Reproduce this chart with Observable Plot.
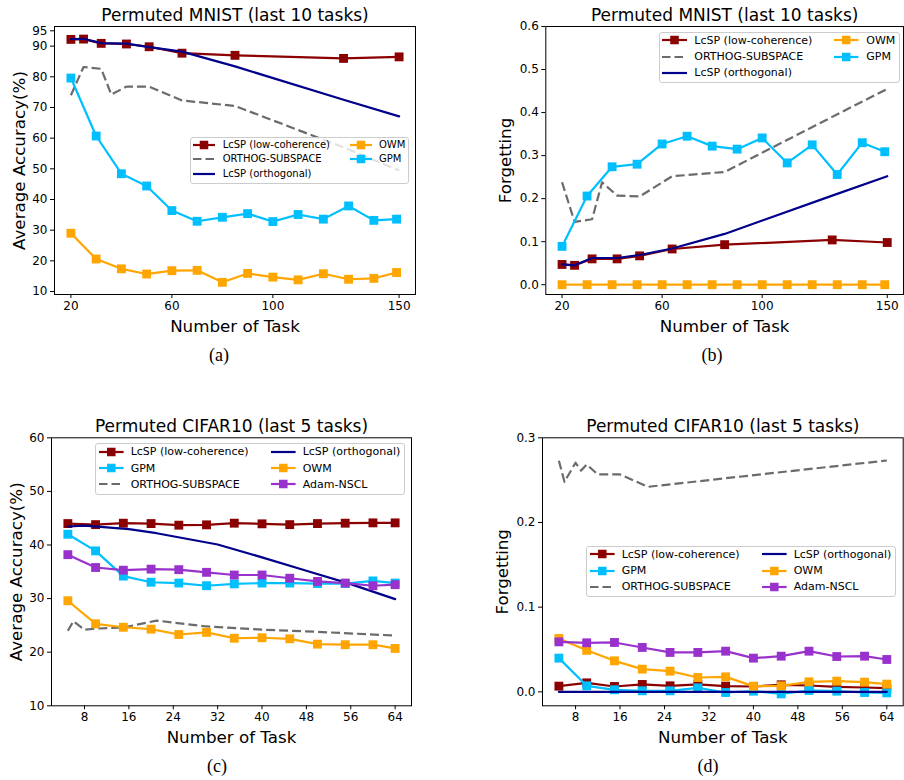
<!DOCTYPE html>
<html><head><meta charset="utf-8">
<script src="https://cdn.jsdelivr.net/npm/d3@7"></script>
<script src="https://cdn.jsdelivr.net/npm/@observablehq/plot@0.6"></script>
<style>
body{margin:0;background:#fff;}
#fig{position:relative;width:904px;height:780px;background:#fff;font-family:"DejaVu Sans",sans-serif;overflow:hidden}
.panel{position:absolute}
.caption{position:absolute;font-family:"Liberation Serif","Times New Roman",serif;font-size:18px;line-height:20px;transform:translateX(-50%);color:#000}
.legend{position:absolute;background:rgba(255,255,255,0.8);border:1px solid #cccccc;border-radius:3px;box-sizing:border-box}
.item{position:absolute;white-space:nowrap;color:#000;font-family:"DejaVu Sans",sans-serif}
</style></head><body><div id="fig"></div>
<script>
// ---------- DATA ----------
// Permuted MNIST (panels a, b)
const tasksMnistLc = [20, 25, 32, 42, 51, 64, 85, 128, 150];
const tasksMnistOg = [20, 25, 32, 36, 42, 51, 64, 85, 128, 150];
const tasksMnistBase = [20, 30, 40, 50, 60, 70, 80, 90, 100, 110, 120, 130, 140, 149];

const accMnistLc   = [92.2, 92.3, 90.9, 90.7, 89.8, 87.7, 87.0, 86.0, 86.5];
const accMnistOrth = [92.3, 92.4, 91.0, 90.8, 89.7, 88.2, 83.4, 72.5, 67.1];
const accMnistOg   = [74.0, 83.2, 82.6, 74.2, 76.8, 76.8, 72.3, 70.5, 57.0, 49.5];
const accMnistGpm  = [79.6, 60.7, 48.4, 44.4, 36.4, 32.9, 34.2, 35.4, 32.8, 35.1, 33.6, 37.9, 33.2, 33.6];
const accMnistOwm  = [29.0, 20.6, 17.4, 15.7, 16.8, 16.9, 13.0, 15.9, 14.7, 13.8, 15.8, 14.0, 14.3, 16.2];

const fgtMnistLc   = [0.047, 0.045, 0.060, 0.060, 0.067, 0.083, 0.093, 0.104, 0.098];
const fgtMnistOrth = [0.047, 0.045, 0.062, 0.062, 0.069, 0.084, 0.118, 0.207, 0.252];
const fgtMnistOg   = [0.238, 0.146, 0.152, 0.238, 0.207, 0.205, 0.252, 0.262, 0.390, 0.455];
const fgtMnistGpm  = [0.089, 0.206, 0.274, 0.280, 0.327, 0.345, 0.322, 0.315, 0.341, 0.283, 0.325, 0.256, 0.330, 0.309];
const fgtMnistOwm  = [0, 0, 0, 0, 0, 0, 0, 0, 0, 0, 0, 0, 0, 0];

// Permuted CIFAR10 (panels c, d)
const tasksCifar = [5, 10, 15, 20, 25, 30, 35, 40, 45, 50, 55, 60, 64];
const tasksCifarOrth = [5, 8, 16, 21, 32, 40, 48, 56, 64];
const tasksCifarOgAcc = [5, 6, 8, 10, 15, 21, 30, 40, 50, 64];
const tasksCifarOgFgt = [5, 6, 8, 9, 10, 12, 16, 21, 64];

const accCifarLc   = [44.0, 43.8, 44.07, 44.0, 43.7, 43.76, 44.07, 43.95, 43.8, 44.0, 44.07, 44.13, 44.13];
const accCifarGpm  = [42.0, 38.9, 34.2, 33.05, 32.9, 32.4, 32.75, 32.9, 32.9, 32.8, 32.8, 33.3, 32.9];
const accCifarAdam = [38.2, 35.8, 35.3, 35.5, 35.4, 34.9, 34.4, 34.4, 33.8, 33.2, 32.9, 32.4, 32.6];
const accCifarOwm  = [29.6, 25.3, 24.65, 24.3, 23.3, 23.7, 22.6, 22.7, 22.5, 21.5, 21.4, 21.4, 20.7];
const accCifarOrth = [43.45, 43.6, 42.95, 42.2, 40.1, 37.7, 35.2, 32.7, 29.9];
const accCifarOg   = [24.0, 25.8, 24.2, 24.4, 24.6, 25.9, 24.8, 24.2, 23.8, 23.1];

const fgtCifarLc   = [0.0067, 0.0106, 0.0063, 0.0087, 0.0071, 0.0087, 0.0067, 0.0063, 0.0083, 0.0075, 0.0059, 0.0051, 0.0043];
const fgtCifarGpm  = [0.0398, 0.0071, 0.0024, 0.0012, 0.0012, 0.0047, -0.0008, 0.0008, -0.0024, 0.0016, 0.0008, -0.0008, -0.0012];
const fgtCifarOwm  = [0.063, 0.049, 0.0366, 0.0268, 0.0244, 0.0169, 0.0177, 0.0067, 0.0071, 0.0118, 0.0126, 0.0114, 0.0091];
const fgtCifarAdam = [0.059, 0.0579, 0.0583, 0.0524, 0.0465, 0.0465, 0.048, 0.0398, 0.0421, 0.048, 0.0417, 0.0421, 0.0382];
const fgtCifarOrth = [0, 0, 0, 0, 0, 0, 0, 0, 0, 0, 0, 0, 0];
const fgtCifarOg   = [0.273, 0.248, 0.2705, 0.2614, 0.2685, 0.2567, 0.2567, 0.2421, 0.2732];

// tick labels
const xTicksMnist = [20, 60, 100, 150];
const xTicksCifar = [8, 16, 24, 32, 40, 48, 56, 64];
const yTicksAccMnist = [10, 20, 30, 40, 50, 60, 70, 80, 90, 95];
const yTicksFgtMnist = [0, 0.1, 0.2, 0.3, 0.4, 0.5, 0.6];
const yTicksAccCifar = [10, 20, 30, 40, 50, 60];
const yTicksFgtCifar = [0, 0.1, 0.2, 0.3];

// ---------- STYLE ----------
const series = {
  lc:   {name: "LcSP (low-coherence)", color: "#8b0000", marker: true},
  og:   {name: "ORTHOG-SUBSPACE", color: "#6b6b6b", dash: true},
  orth: {name: "LcSP (orthogonal)", color: "#00008b"},
  owm:  {name: "OWM", color: "#ffa500", marker: true},
  gpm:  {name: "GPM", color: "#00bfff", marker: true},
  adam: {name: "Adam-NSCL", color: "#9932cc", marker: true}
};

const fig = document.getElementById("fig");

function panel(cfg) {
  const marks = [];
  for (const [key, xs, ys] of cfg.layers) {
    const s = series[key];
    const rows = xs.map((t, i) => ({task: t, value: ys[i]}));
    const lineOpts = {x: "task", y: "value", stroke: s.color, strokeWidth: 2.2};
    if (s.dash) { lineOpts.strokeDasharray = "9,4"; lineOpts.strokeLinecap = "butt"; }
    marks.push(Plot.line(rows, lineOpts));
    if (s.marker) marks.push(Plot.dot(rows, {x: "task", y: "value", symbol: "square", fill: s.color, r: 5}));
  }
  marks.push(Plot.frame({stroke: "black", strokeWidth: 1}));
  marks.push(Plot.text([cfg.title], {text: d => d, frameAnchor: "top", textAnchor: "middle", lineAnchor: "bottom", dy: -5.5, fontSize: 17, fill: "black"}));
  marks.push(Plot.text(["Number of Task"], {text: d => d, frameAnchor: "bottom", textAnchor: "middle", lineAnchor: "bottom", dy: 37, fontSize: 16.7, fill: "black"}));
  marks.push(Plot.text([cfg.ylabel], {text: d => d, frameAnchor: "left", textAnchor: "middle", rotate: -90, lineAnchor: "bottom", dx: cfg.ylabelDx, fontSize: 16.7, fill: "black"}));
  const p = Plot.plot({
    width: cfg.width, height: cfg.height,
    marginLeft: cfg.m[0], marginRight: cfg.m[1], marginTop: cfg.m[2], marginBottom: cfg.m[3],
    style: {fontFamily: "DejaVu Sans, sans-serif", fontSize: "12px", color: "black", background: "transparent", overflow: "visible"},
    x: {domain: cfg.xDomain, ticks: cfg.xTicks, tickSize: 4, tickPadding: 3, label: null},
    y: {domain: cfg.yDomain, ticks: cfg.yTicks, tickSize: 4, tickPadding: 3, label: null, tickFormat: cfg.yFormat},
    marks
  });
  const wrap = document.createElement("div");
  wrap.className = "panel";
  wrap.style.left = cfg.left + "px";
  wrap.style.top = cfg.top + "px";
  wrap.appendChild(p);
  fig.appendChild(wrap);
}

function legend(cfg) {
  const box = document.createElement("div");
  box.className = "legend";
  Object.assign(box.style, {left: cfg.box[0] + "px", top: cfg.box[1] + "px", width: cfg.box[2] + "px", height: cfg.box[3] + "px"});
  fig.appendChild(box);
  cfg.columns.forEach((col, ci) => {
    col.forEach((key, ri) => {
      const s = series[key];
      const c = cfg.cols[ci];
      const ry = cfg.rows[ri];
      const ns = "http://www.w3.org/2000/svg";
      const svg = document.createElementNS(ns, "svg");
      svg.setAttribute("width", c.sl + 10);
      svg.setAttribute("height", 14);
      svg.style.position = "absolute";
      svg.style.left = (c.sw - 5) + "px";
      svg.style.top = (ry - 7) + "px";
      const ln = document.createElementNS(ns, "line");
      ln.setAttribute("x1", 5); ln.setAttribute("x2", 5 + c.sl);
      ln.setAttribute("y1", 7); ln.setAttribute("y2", 7);
      ln.setAttribute("stroke", s.color); ln.setAttribute("stroke-width", 2.2);
      if (s.dash) ln.setAttribute("stroke-dasharray", "8.5,4");
      svg.appendChild(ln);
      if (s.marker) {
        const m = cfg.ms;
        const r = document.createElementNS(ns, "rect");
        r.setAttribute("x", 5 + c.sl / 2 - m / 2); r.setAttribute("y", 7 - m / 2);
        r.setAttribute("width", m); r.setAttribute("height", m);
        r.setAttribute("fill", s.color);
        svg.appendChild(r);
      }
      fig.appendChild(svg);
      const t = document.createElement("div");
      t.className = "item";
      t.textContent = s.name;
      t.style.fontSize = cfg.font + "px";
      t.style.lineHeight = (cfg.font * 1.2) + "px";
      t.style.left = c.tx + "px";
      t.style.top = (ry - cfg.font * 0.6) + "px";
      fig.appendChild(t);
    });
  });
}

function caption(text, cx, cy) {
  const d = document.createElement("div");
  d.className = "caption";
  d.textContent = text;
  d.style.left = cx + "px";
  d.style.top = (cy - 10) + "px";
  fig.appendChild(d);
}

// (a)
panel({left: 0, top: 0, width: 452, height: 340, m: [54, 37, 26, 46],
  xDomain: [13.5, 156.5], xTicks: xTicksMnist, yDomain: [9.03, 96.4], yTicks: yTicksAccMnist, yFormat: d3.format("d"),
  title: "Permuted MNIST (last 10 tasks)", ylabel: "Average Accuracy(%)", ylabelDx: -30,
  layers: [["lc", tasksMnistLc, accMnistLc], ["og", tasksMnistOg, accMnistOg], ["orth", tasksMnistLc, accMnistOrth],
           ["owm", tasksMnistBase, accMnistOwm], ["gpm", tasksMnistBase, accMnistGpm]]});
// (b)
panel({left: 452, top: 0, width: 452, height: 340, m: [93.3, 1, 26, 46],
  xDomain: [13.5, 156.5], xTicks: xTicksMnist, yDomain: [-0.0228, 0.6], yTicks: yTicksFgtMnist, yFormat: d3.format(".1f"),
  title: "Permuted MNIST (last 10 tasks)", ylabel: "Forgetting", ylabelDx: -35,
  layers: [["lc", tasksMnistLc, fgtMnistLc], ["og", tasksMnistOg, fgtMnistOg], ["orth", tasksMnistLc, fgtMnistOrth],
           ["owm", tasksMnistBase, fgtMnistOwm], ["gpm", tasksMnistBase, fgtMnistGpm]]});
// (c)
panel({left: 0, top: 400, width: 452, height: 340, m: [51, 41, 37.3, 34.7],
  xDomain: [2.05, 66.95], xTicks: xTicksCifar, yDomain: [10, 60], yTicks: yTicksAccCifar, yFormat: d3.format("d"),
  title: "Permuted CIFAR10 (last 5 tasks)", ylabel: "Average Accuracy(%)", ylabelDx: -30,
  layers: [["lc", tasksCifar, accCifarLc], ["gpm", tasksCifar, accCifarGpm], ["og", tasksCifarOgAcc, accCifarOg],
           ["orth", tasksCifarOrth, accCifarOrth], ["owm", tasksCifar, accCifarOwm], ["adam", tasksCifar, accCifarAdam]]});
// (d)
panel({left: 452, top: 400, width: 452, height: 340, m: [90, 1.3, 37.3, 34.7],
  xDomain: [2.05, 66.95], xTicks: xTicksCifar, yDomain: [-0.0165, 0.3], yTicks: yTicksFgtCifar, yFormat: d3.format(".1f"),
  title: "Permuted CIFAR10 (last 5 tasks)", ylabel: "Forgetting", ylabelDx: -35,
  layers: [["lc", tasksCifar, fgtCifarLc], ["gpm", tasksCifar, fgtCifarGpm], ["og", tasksCifarOgFgt, fgtCifarOg],
           ["orth", tasksCifar, fgtCifarOrth], ["owm", tasksCifar, fgtCifarOwm], ["adam", tasksCifar, fgtCifarAdam]]});

legend({box: [190, 136.7, 219.3, 47], font: 10, ms: 8.5, rows: [144.7, 159.3, 174],
  cols: [{sw: 193, sl: 22, tx: 222.7}, {sw: 350, sl: 22, tx: 379}], columns: [["lc", "og", "orth"], ["owm", "gpm"]]});
legend({box: [658.7, 31.7, 241.6, 51.6], font: 11, ms: 8.5, rows: [40.3, 57, 73],
  cols: [{sw: 662, sl: 25, tx: 694.3}, {sw: 834.3, sl: 24.4, tx: 866.3}], columns: [["lc", "og", "orth"], ["owm", "gpm"]]});
legend({box: [95.3, 442.7, 310, 52], font: 11, ms: 8.5, rows: [452, 468.3, 484.3],
  cols: [{sw: 98.7, sl: 24.6, tx: 130.7}, {sw: 270.7, sl: 24.6, tx: 302.7}], columns: [["lc", "gpm", "og"], ["orth", "owm", "adam"]]});
legend({box: [586.3, 545.7, 310, 51.6], font: 11, ms: 8.5, rows: [554.3, 570.7, 587],
  cols: [{sw: 589.7, sl: 24.6, tx: 621.7}, {sw: 761.7, sl: 24.6, tx: 793.7}], columns: [["lc", "gpm", "og"], ["orth", "owm", "adam"]]});

caption("(a)", 219, 355);
caption("(b)", 712, 355);
caption("(c)", 217, 766);
caption("(d)", 708, 766);
</script></body></html>
